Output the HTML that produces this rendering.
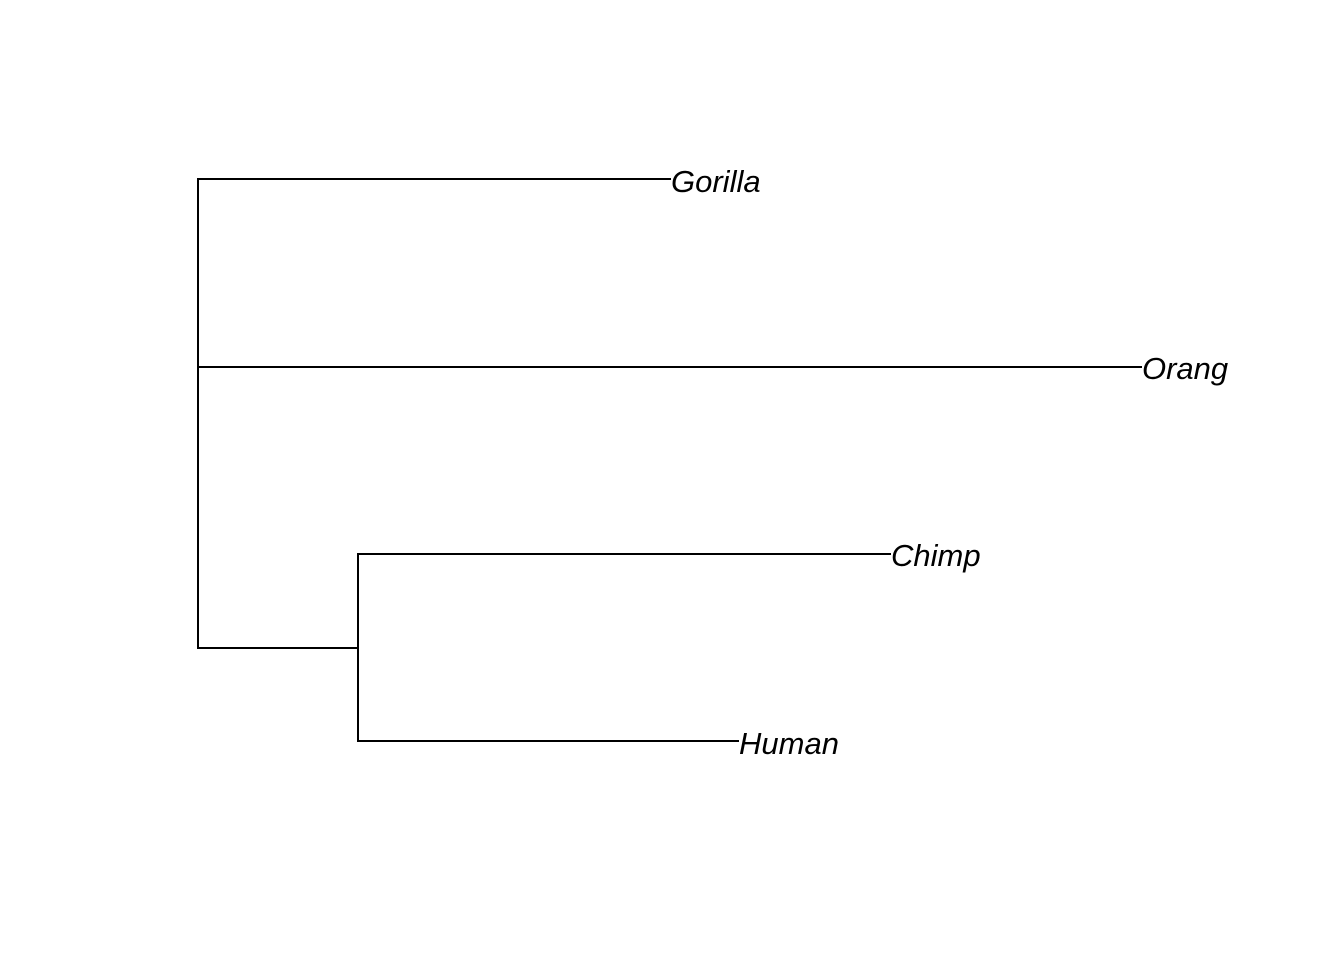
<!DOCTYPE html>
<html><head><style>html,body{margin:0;background:#fff}</style></head><body>
<svg width="1344" height="960" xmlns="http://www.w3.org/2000/svg" style="display:block">
<g stroke="#000" stroke-width="2" fill="none" stroke-linecap="square">
<line x1="198" y1="179" x2="198" y2="648"/>
<line x1="198" y1="179" x2="670" y2="179"/>
<line x1="198" y1="367" x2="1141" y2="367"/>
<line x1="198" y1="648" x2="358" y2="648"/>
<line x1="358" y1="554" x2="358" y2="741"/>
<line x1="358" y1="554" x2="890" y2="554"/>
<line x1="358" y1="741" x2="738" y2="741"/>
</g>
<g font-family="Liberation Sans, sans-serif" font-style="italic" font-size="31" fill="#000">
<text x="671" y="192">Gorilla</text>
<text x="1142" y="379">Orang</text>
<text x="891" y="566">Chimp</text>
<text x="739" y="754">Human</text>
</g>
</svg>
</body></html>
